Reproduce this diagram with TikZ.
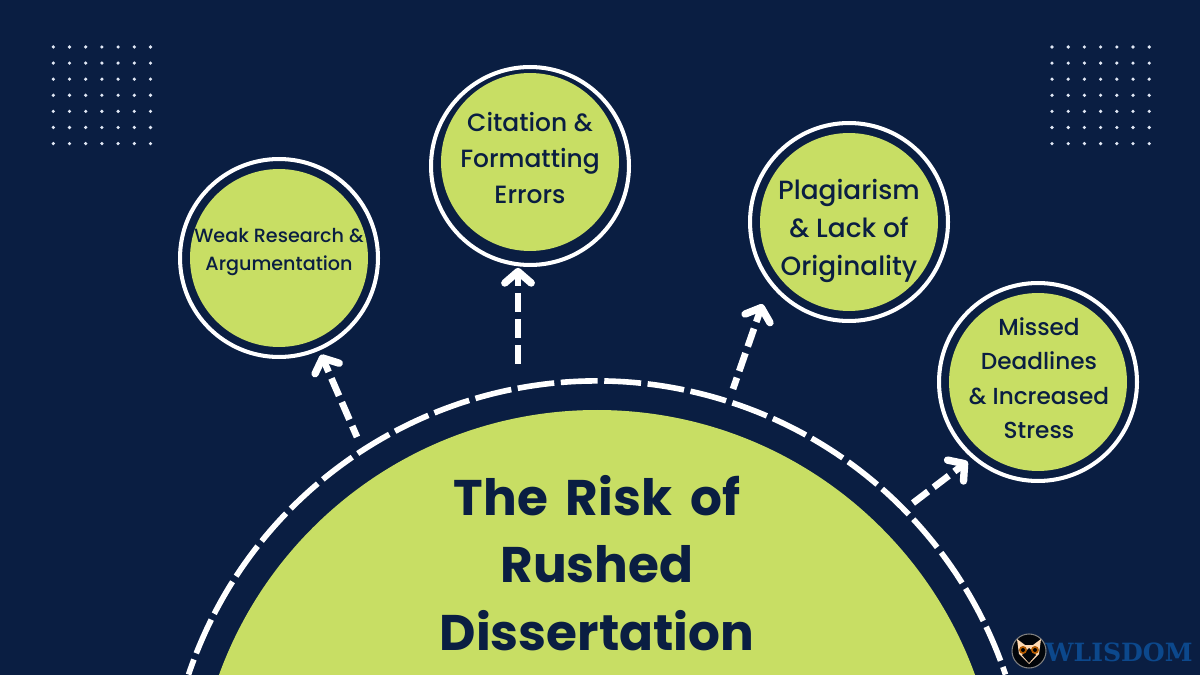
\documentclass[tikz,border=0pt]{standalone}
\usepackage{fontspec}
\setmainfont{Poppins}
\newfontfamily\bubblefont{Poppins Medium}
\newfontfamily\logofont{DejaVu Serif}
\usetikzlibrary{arrows.meta}
\definecolor{navy}{RGB}{10,30,66}
\definecolor{lime}{RGB}{200,222,100}
\definecolor{logoblue}{RGB}{12,72,140}
\definecolor{dotwhite}{RGB}{225,232,245}
\tikzset{
  bubblering/.style={circle, draw=white, fill=navy, line width=2.3pt, minimum size=3.96cm, inner sep=0pt},
  bubble/.style={circle, fill=lime, minimum size=3.56cm, inner sep=0pt},
  bubbletext/.style={text=navy, align=center},
  riskarrow/.style={draw=white, line width=3.8pt, dash pattern=on 10.8pt off 4pt,
    -{Straight Barb[length=6.5pt, width=15pt, line width=4.2pt, round]}},
  griddot/.style={fill=dotwhite}
}
\begin{document}
\begin{tikzpicture}[x=0.02cm, y=-0.02cm]
  % Background
  \fill[navy] (0,0) rectangle (1200,675);
  \clip (0,0) rectangle (1200,675);
  % Dot grids
  \foreach \i in {0,...,6}{
    \foreach \j in {0,...,6}{
      \fill[griddot] (53.3+16.2*\i, 47+16.1*\j) circle[radius=1.8];
      \fill[griddot] (1052+16.2*\i, 47+16.1*\j) circle[radius=1.8];
    }
  }
  % Main half circle
  \fill[lime] (597,812) circle[radius=402];
  \draw[white, line width=3.2pt, dash pattern=on 21pt off 3.75pt, dash phase=11.9pt] (597,812) ++(198.6:431) arc[start angle=198.6, end angle=341.4, radius=431];
  \node[text=navy, font=\fontsize{28.5}{38.5}\selectfont\bfseries, align=center] (title) at (597,563)
    {The\hspace{.15em} Risk\hspace{.15em} of\\Rushed\\Dissertation};
  % Bubbles: name, ring centre, green centre
  \foreach \name/\x/\y/\gy in {research/279/258/258, citation/530/166/162, plagiarism/849/222/222, deadlines/1038/382/382}{
    \node[bubblering] (\name) at (\x,\y) {};
    \node[bubble] (\name fill) at (\x,\gy) {};
  }
  \node[bubbletext, font=\bubblefont\fontsize{10.9}{15.9}\selectfont] (researchtext) at (279,252) {Weak Research \&\\Argumentation};
  \node[bubbletext, font=\bubblefont\fontsize{14.2}{20.4}\selectfont] (citationtext) at (530,158) {Citation \&\\Formatting\\Errors};
  \node[bubbletext, font=\bubblefont\fontsize{15}{21.5}\selectfont] (plagiarismtext) at (849,231) {Plagiarism\\\& Lack of\\Originality};
  \node[bubbletext, font=\bubblefont\fontsize{13.2}{19.6}\selectfont] (deadlinestext) at (1039,378) {Missed\\Deadlines\\\& Increased\\Stress};
  % Arrow starts
  \coordinate (researchstart) at (357,437);
  \coordinate (citationstart) at (518,364);
  \coordinate (plagiarismstart) at (733,389);
  \coordinate (deadlinesstart) at (913,503);
  % Arrows
  \draw[riskarrow, dash phase=4pt, shorten >=2.5pt] (researchstart) -- (research);
  \draw[riskarrow, shorten >=0.5pt] (citationstart) -- (citationstart |- citation.south);
  \draw[riskarrow, dash phase=4pt, shorten >=12pt] (plagiarismstart) -- (plagiarism.218);
  \draw[riskarrow, shorten >=3pt] (deadlinesstart) -- (deadlines.229);
  % Logo
  \fill[black!85!navy, draw=gray, line width=0.6pt] (1029,651) circle[radius=17];
  \fill[orange!30!white] (1017,639) -- (1025,645) -- (1033,645) -- (1041,639) -- (1039,654) -- (1029,664) -- (1019,654) -- cycle;
  \fill[black!85!navy] (1029,648) -- (1036,655) -- (1029,663) -- (1022,655) -- cycle;
  \fill[orange!70!black] (1023,650) circle[radius=4] (1035,650) circle[radius=4];
  \fill[black] (1023,650) circle[radius=2] (1035,650) circle[radius=2];
  \node[text=logoblue, font=\logofont\bfseries\fontsize{14.3}{14.3}\selectfont, inner sep=0pt] (logo) at (1119,652.5) {WLISDOM};
\end{tikzpicture}
\end{document}
